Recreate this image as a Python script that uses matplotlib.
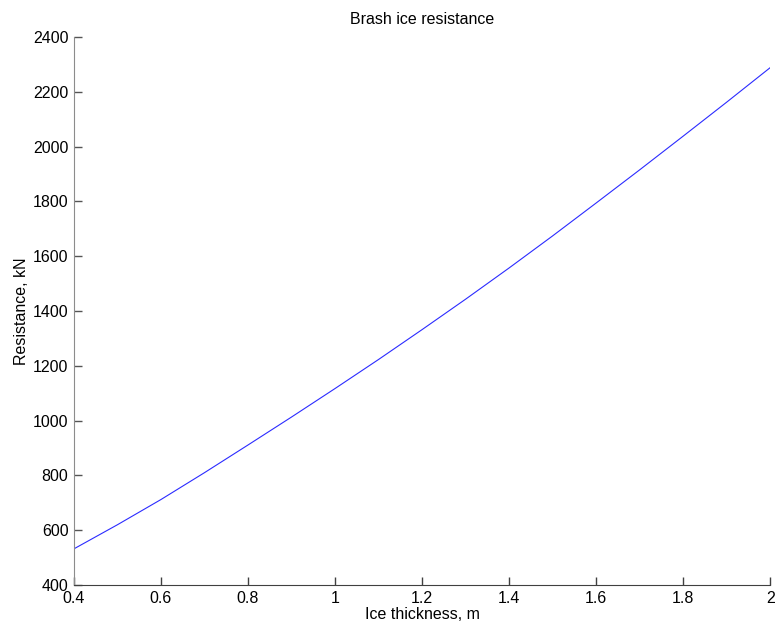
import matplotlib
matplotlib.use("Agg")
import matplotlib.pyplot as plt

plt.rcParams["font.family"] = ["Liberation Sans", "DejaVu Sans"]

# brash ice resistance against ice thickness
thickness = [0.4, 0.5, 0.6, 0.7, 0.8, 0.9, 1.0, 1.1, 1.2, 1.3,
             1.4, 1.5, 1.6, 1.7, 1.8, 1.9, 2.0]
resistance = [532, 620, 712, 810, 911, 1013, 1117, 1223, 1332, 1443,
              1557, 1674, 1794, 1915, 2038, 2162, 2288]
xticks = [0.4, 0.6, 0.8, 1, 1.2, 1.4, 1.6, 1.8, 2]
xticklabels = ["0.4", "0.6", "0.8", "1", "1.2", "1.4", "1.6", "1.8", "2"]
yticks = list(range(400, 2401, 200))

fig = plt.figure(figsize=(7.77, 6.31), dpi=100)
ax = fig.add_axes([0.0952, 0.0729, 0.896, 0.8685])

ax.plot(thickness, resistance, color="#2b2bff", lw=0.8)

ax.set_xlim(0.4, 2)
ax.set_ylim(400, 2400)
ax.set_xticks(xticks)
ax.set_xticklabels(xticklabels)
ax.set_yticks(yticks)

for s in ["top", "right"]:
    ax.spines[s].set_visible(False)
ax.spines["left"].set_color("#8c8c8c")
ax.spines["bottom"].set_color("#404040")
ax.tick_params(axis="both", direction="in", length=6, labelsize=11.5, width=1)
ax.tick_params(axis="y", color="#555555", pad=4)
ax.tick_params(axis="x", color="#404040", pad=4)

ax.set_title("Brash ice resistance", fontsize=11.5, pad=9)
ax.set_xlabel("Ice thickness, m", fontsize=11.5, labelpad=1)
ax.set_ylabel("Resistance, kN", fontsize=11.5, labelpad=3)

fig.savefig("out.png", dpi=100)
